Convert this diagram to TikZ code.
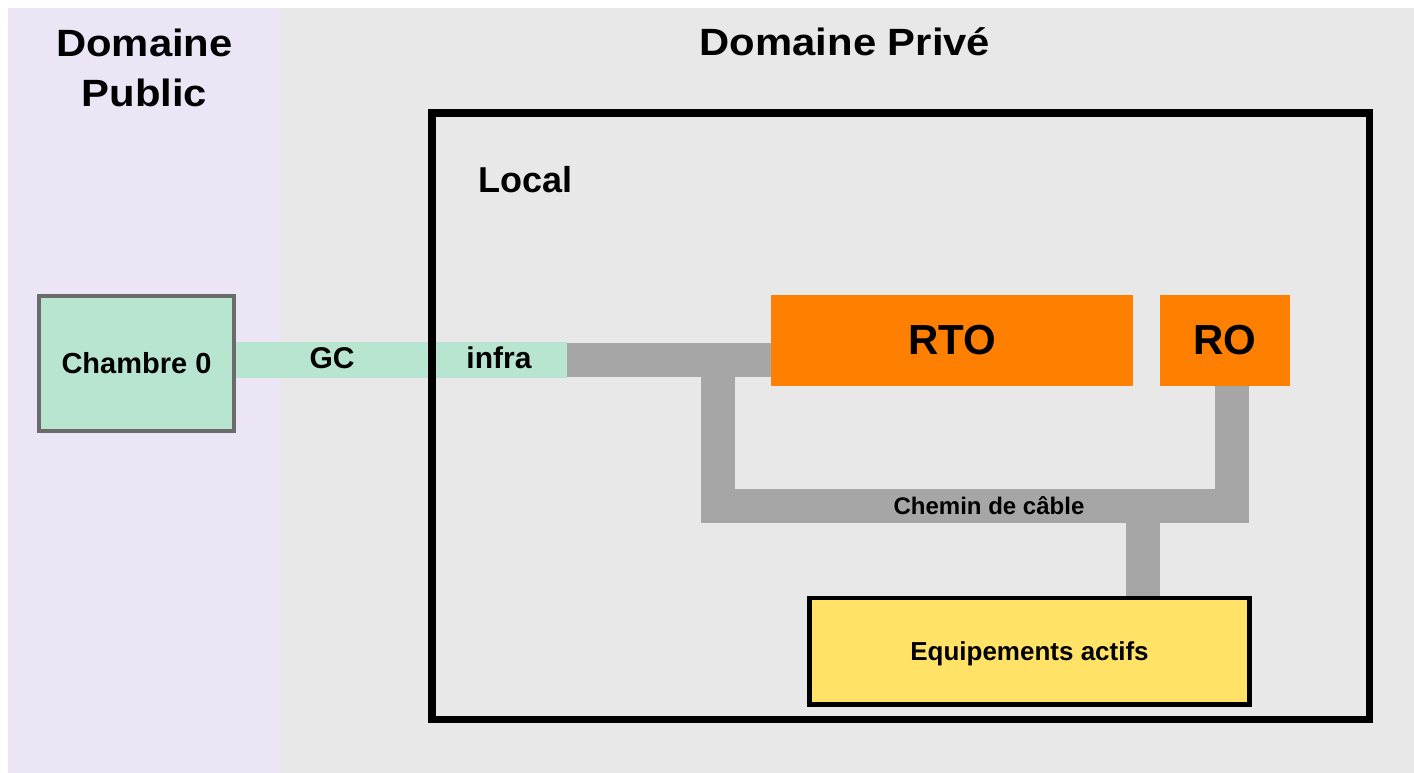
\documentclass[tikz,border=0pt]{standalone}
\usepackage{fontspec}
\setmainfont{Liberation Sans}
\newfontfamily\widefont[FakeStretch=1.1]{Liberation Sans}
\definecolor{publicbg}{HTML}{ECE5F5}
\definecolor{privebg}{HTML}{E8E8E8}
\definecolor{menthe}{HTML}{B8E5D0}
\definecolor{bordgris}{HTML}{6B6B6B}
\definecolor{cablegris}{HTML}{A6A6A6}
\definecolor{orangeRTO}{HTML}{FF7F00}
\definecolor{jaune}{HTML}{FFE266}
\tikzset{
  titre/.style={font=\widefont\bfseries\fontsize{38}{44}\selectfont, inner sep=0pt},
  bloc/.style={fill=orangeRTO, minimum height=91pt, font=\bfseries\fontsize{42}{48}\selectfont},
  gaine/.style={draw=menthe, line width=36pt},
  cable/.style={draw=cablegris, line width=34pt},
  etiq/.style={font=\bfseries\fontsize{#1}{#1}\selectfont, inner sep=0pt},
}

\begin{document}
\begin{tikzpicture}[x=1pt,y=-1pt]
				%%%%% fonds %%%%%
				\useasboundingbox (0,0) rectangle (1414,773);
				\fill[publicbg] (8,8) rectangle (280,773);
				\fill[privebg] (280,8) rectangle (1414,773);

				\node[titre, anchor=base] (dom1) at (144.5,56.5) {Domaine};
				\node[titre, anchor=base] (dom2) at (144.5,107) {Public};
				\node[titre, anchor=base] (prive) at (845,56) {Domaine Privé};

				\node[draw=bordgris, fill=menthe, line width=4pt, minimum width=195pt, minimum height=135pt, etiq=29] (ch0) at (136.5,363.5) {Chambre 0};

				%%%%% gaine %%%%%
				\coordinate (gc) at (567,360);
				\draw[gaine] (ch0.east |- gc) -- (gc);

				%%%%% local %%%%%
				\node[draw, line width=7.5pt, minimum width=937.5pt, minimum height=606pt] (local) at (900.5,416.25) {};
				\node[etiq=36, anchor=base west] (loclabel) at (478,192.7) {Local};

				\node[bloc, minimum width=362pt] (rto) at (952,340.5) {RTO};
				\node[bloc, minimum width=130pt] (ro) at (1225,340.5) {RO};
				\node[draw, line width=4.5pt, fill=jaune, minimum width=440pt, minimum height=106.5pt, etiq=26, text depth=0pt] (equip) at (1029.5,651.2) {Equipements actifs};

				%%%%% chemin de cable %%%%%
				\coordinate (cl) at (718,505.5);
				\coordinate (cr) at (1231.5,505.5);
				\coordinate (cs) at (1143,505.5);
				\draw[cable] (gc) -- (rto.west |- gc);
				\draw[cable] (cl |- gc) -- (cl) -- (cr) -- (cr |- ro.south);
				\draw[cable] (cs) -- (cs |- equip.north);

				\node[etiq=30] (gclabel) at (332,358) {GC};
				\node[etiq=30] (infra) at (499,358) {infra};
				\node[etiq=24, anchor=base] (chemin) at (989,514) {Chemin de câble};
				%%%%% fin %%%%%
\end{tikzpicture}
\end{document}
